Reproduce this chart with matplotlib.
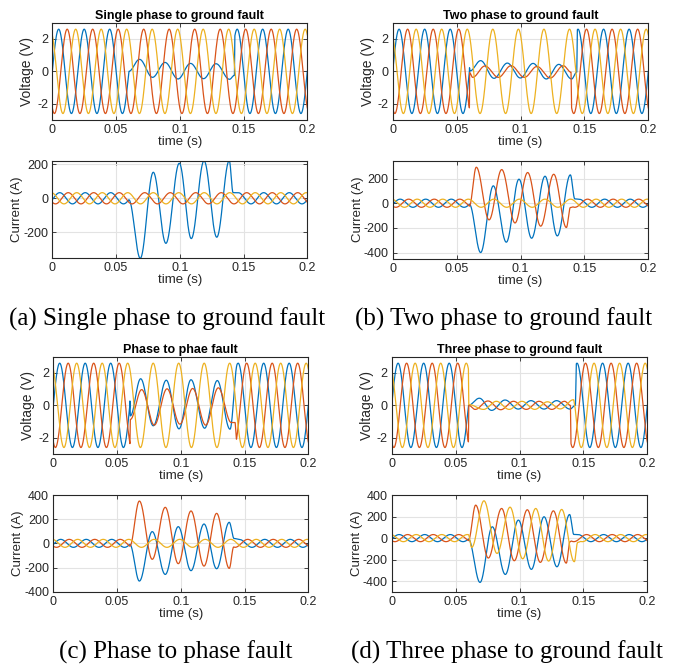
import numpy as np
import matplotlib.pyplot as plt

# phase colours (MATLAB default order)
blue, red, yellow = "#0072BD", "#D95319", "#EDB120"

f_hz = 50.0
v_amp = 2.6        # V, healthy voltage peak
i_amp = 33.0       # A, healthy current peak
i_lag = 0.26       # rad, current lag
shifts = [0.0, -2 * np.pi / 3, 2 * np.pi / 3]   # blue, red, yellow

# ---- fault segments: window (start, end) and extrema ----
# (a) single phase to ground
a_v_blue_win = (0.06, 0.1432)
a_v_blue_t = [0.0684, 0.0786, 0.0884, 0.0986, 0.1084, 0.1186, 0.1284, 0.1390, 0.1428]
a_v_blue = [0.74, -0.37, 0.55, -0.47, 0.49, -0.45, 0.47, -0.49, -0.25]
a_i_blue_win = (0.06, 0.146)
a_i_blue_t = [0.0690, 0.0792, 0.0891, 0.0996, 0.1090, 0.1190, 0.1290, 0.1388, 0.1418]
a_i_blue = [-353, 153, -265, 206, -237, 220, -229, 221, 33]

# (b) two phase to ground
b_v_blue_win = (0.06, 0.1445)
b_v_blue_t = [0.0601, 0.0604, 0.0688, 0.0793, 0.0897, 0.0999, 0.1098, 0.1202, 0.1300, 0.1400, 0.1440]
b_v_blue = [0.22, 0.02, 0.66, -0.43, 0.51, -0.41, 0.49, -0.47, 0.43, -0.47, -0.05]
b_v_red_win = (0.06, 0.1400)
b_v_red_t = [0.0602, 0.0625, 0.0722, 0.0827, 0.0926, 0.1030, 0.1129, 0.1233, 0.1335, 0.1395]
b_v_red = [-0.08, -0.37, 0.33, -0.37, 0.35, -0.37, 0.30, -0.41, 0.35, -0.05]
b_i_blue_win = (0.06, 0.146)
b_i_blue_t = [0.0688, 0.0787, 0.0889, 0.0988, 0.1087, 0.1192, 0.1288, 0.1390, 0.1425]
b_i_blue = [-400, 141, -316, 195, -284, 219, -265, 230, 35]
b_i_red_win = (0.06, 0.141)
b_i_red_t = [0.0654, 0.0754, 0.0853, 0.0957, 0.1056, 0.1158, 0.1260, 0.1359, 0.1390]
b_i_red = [292, -135, 273, -160, 249, -186, 235, -197, -35]

# (c) phase to phase
c_v_blue_win = (0.06, 0.1445)
c_v_blue_t = [0.0601, 0.0604, 0.0685, 0.0784, 0.0886, 0.0986, 0.1080, 0.1187, 0.1286, 0.1386]
c_v_blue = [0.27, -0.65, 1.64, -1.26, 1.55, -1.45, 1.58, -1.41, 1.53, -1.47]
c_v_red_win = (0.06, 0.1437)
c_v_red_t = [0.0601, 0.0604, 0.0693, 0.0792, 0.0892, 0.0993, 0.1093, 0.1195, 0.1294, 0.1396, 0.1425]
c_v_red = [-2.36, -0.87, 0.97, -1.22, 1.02, -1.16, 1.04, -1.22, 1.08, -1.06, -1.05]
c_i_blue_win = (0.06, 0.146)
c_i_blue_t = [0.0675, 0.0776, 0.0878, 0.0980, 0.1080, 0.1182, 0.1281, 0.1380, 0.1418]
c_i_blue = [-312, 97, -257, 138, -226, 160, -210, 174, 40]
c_i_red_win = (0.06, 0.1425)
c_i_red_t = [0.0675, 0.0776, 0.0878, 0.0980, 0.1080, 0.1182, 0.1281, 0.1380, 0.1415]
c_i_red = [350, -132, 298, -168, 268, -188, 248, -207, -30]

# (d) three phase to ground
d_v_blue_win = (0.06, 0.1445)
d_v_blue_t = [0.0686, 0.0782, 0.0887, 0.0990, 0.1090, 0.1192, 0.1290, 0.1395, 0.1437]
d_v_blue = [0.44, -0.31, 0.33, -0.23, 0.29, -0.23, 0.29, -0.23, 0.0]
d_v_red_win = (0.06, 0.1403)
d_v_red_t = [0.0603, 0.0653, 0.0753, 0.0853, 0.0953, 0.1053, 0.1153, 0.1253, 0.1353, 0.1398]
d_v_red = [0.0, -0.25, 0.27, -0.27, 0.25, -0.25, 0.25, -0.25, 0.25, 0.0]
d_v_yel_win = (0.06, 0.1435)
d_v_yel_t = [0.0603, 0.0719, 0.0819, 0.0919, 0.1019, 0.1119, 0.1219, 0.1319, 0.1423]
d_v_yel = [0.05, -0.25, 0.25, -0.25, 0.25, -0.25, 0.22, -0.22, 0.35]
d_i_blue_win = (0.06, 0.146)
d_i_blue_t = [0.0691, 0.0787, 0.0889, 0.0991, 0.1093, 0.1192, 0.1293, 0.1392, 0.1425]
d_i_blue = [-411, 105, -337, 167, -290, 198, -266, 219, 34]
d_i_red_win = (0.06, 0.1405)
d_i_red_t = [0.0657, 0.0756, 0.0860, 0.0959, 0.1061, 0.1163, 0.1265, 0.1366, 0.1395]
d_i_red = [306, -185, 275, -210, 263, -225, 253, -232, -34]
d_i_yel_win = (0.06, 0.148)
d_i_yel_t = [0.0626, 0.0722, 0.0824, 0.0926, 0.1025, 0.1127, 0.1228, 0.1330, 0.1429, 0.1455]
d_i_yel = [-86, 346, -142, 287, -192, 275, -213, 266, -219, -40]

titles = ["Single phase to ground fault", "Two phase to ground fault",
          "Phase to phae fault", "Three phase to ground fault"]
captions = ["(a) Single phase to ground fault", "(b) Two phase to ground fault",
            "(c) Phase to phase fault", "(d) Three phase to ground fault"]
xticks = [0, 0.05, 0.1, 0.15, 0.2]
xticklabels = ["0", "0.05", "0.1", "0.15", "0.2"]

t = np.linspace(0, 0.2, 8001)


def wave(amp, shift, fault=None):
    """Healthy sine, with the fault window replaced by a curve through read extrema."""
    y = amp * np.sin(2 * np.pi * f_hz * t + shift)
    if fault is None:
        return y
    (t0, t1), kt, kv = fault
    steady = lambda s: amp * np.sin(2 * np.pi * f_hz * s + shift)
    xs = np.array([t0] + list(kt) + [t1])
    ys = np.array([steady(t0)] + list(kv) + [steady(t1)])
    m = (t >= t0) & (t <= t1)
    k = np.clip(np.searchsorted(xs, t[m], side="right") - 1, 0, len(xs) - 2)
    s = (t[m] - xs[k]) / (xs[k + 1] - xs[k])
    y[m] = ys[k] + (ys[k + 1] - ys[k]) * (1 - np.cos(np.pi * s)) / 2
    return y


def volts(faults):
    return [wave(v_amp, shifts[p], faults.get(p)) for p in range(3)]


def amps(faults):
    return [wave(i_amp, shifts[p] - i_lag, faults.get(p)) for p in range(3)]


panels = [
    (volts({0: (a_v_blue_win, a_v_blue_t, a_v_blue)}),
     amps({0: (a_i_blue_win, a_i_blue_t, a_i_blue)})),
    (volts({0: (b_v_blue_win, b_v_blue_t, b_v_blue), 1: (b_v_red_win, b_v_red_t, b_v_red)}),
     amps({0: (b_i_blue_win, b_i_blue_t, b_i_blue), 1: (b_i_red_win, b_i_red_t, b_i_red)})),
    (volts({0: (c_v_blue_win, c_v_blue_t, c_v_blue), 1: (c_v_red_win, c_v_red_t, c_v_red)}),
     amps({0: (c_i_blue_win, c_i_blue_t, c_i_blue), 1: (c_i_red_win, c_i_red_t, c_i_red)})),
    (volts({0: (d_v_blue_win, d_v_blue_t, d_v_blue), 1: (d_v_red_win, d_v_red_t, d_v_red),
            2: (d_v_yel_win, d_v_yel_t, d_v_yel)}),
     amps({0: (d_i_blue_win, d_i_blue_t, d_i_blue), 1: (d_i_red_win, d_i_red_t, d_i_red),
           2: (d_i_yel_win, d_i_yel_t, d_i_yel)})),
]

i_ylims = [None, (-450, 345), (-400, 400), (-500, 400)]
i_yticks = [[-200, 0, 200], [-400, -200, 0, 200], [-400, -200, 0, 200, 400],
            [-400, -200, 0, 200, 400]]

W, H = 673, 669
# pixel boxes (x0, x1, y_top, y_bottom) for voltage and current axes
v_boxes = [(52.3, 307.3, 22.7, 120), (392.7, 648.3, 22.7, 120),
           (53.3, 308.3, 356.7, 454), (391.7, 647.3, 356.7, 454)]
i_boxes = [(52.3, 307.3, 160.7, 258.3), (392.7, 648.3, 160.7, 258.7),
           (53.3, 308.3, 495, 591.7), (391.7, 647.3, 495, 592)]
cap_pos = [(167, 319), (504, 319), (176, 652), (507, 652)]

plt.rcParams["font.family"] = ["Liberation Sans", "DejaVu Sans"]
plt.rcParams["axes.unicode_minus"] = False
fig = plt.figure(figsize=(W / 100, H / 100), dpi=100)


def make_ax(box):
    x0, x1, y0, y1 = box
    ax = fig.add_axes([x0 / W, 1 - y1 / H, (x1 - x0) / W, (y1 - y0) / H])
    ax.grid(True, color="#e3e3e3", linewidth=0.8)
    ax.set_axisbelow(True)
    ax.tick_params(direction="in", top=True, right=True, length=3, width=0.6,
                   labelsize=9, colors="#262626", pad=3)
    for sp in ax.spines.values():
        sp.set_linewidth(0.8)
        sp.set_color("#262626")
    ax.set_xlim(0, 0.2)
    ax.set_xticks(xticks)
    ax.set_xticklabels(xticklabels)
    ax.set_xlabel("time (s)", fontsize=9.5, color="#262626", labelpad=0)
    return ax


for k, (vs, cs) in enumerate(panels):
    ax = make_ax(v_boxes[k])
    for y, c in zip(vs, [blue, red, yellow]):
        ax.plot(t, y, color=c, linewidth=0.9)
    ax.set_ylim(-3, 3)
    ax.set_yticks([-2, 0, 2])
    ax.set_ylabel("Voltage (V)", fontsize=10, color="#262626", labelpad=2)
    ax.set_title(titles[k], fontsize=9, fontweight="bold", pad=3)

    ax = make_ax(i_boxes[k])
    for y, c in zip(cs, [blue, red, yellow]):
        ax.plot(t, y, color=c, linewidth=0.9)
    if i_ylims[k] is None:
        ax.set_ylim(min(y.min() for y in cs), max(y.max() for y in cs))
    else:
        ax.set_ylim(*i_ylims[k])
    ax.set_yticks(i_yticks[k])
    ax.set_ylabel("Current (A)", fontsize=9.5, color="#262626", labelpad=0)

    cx, cy = cap_pos[k]
    fig.text(cx / W, 1 - cy / H, captions[k], ha="center", va="center",
             fontsize=18, family=["Liberation Serif", "DejaVu Serif"])

fig.savefig("out.png", dpi=100)
